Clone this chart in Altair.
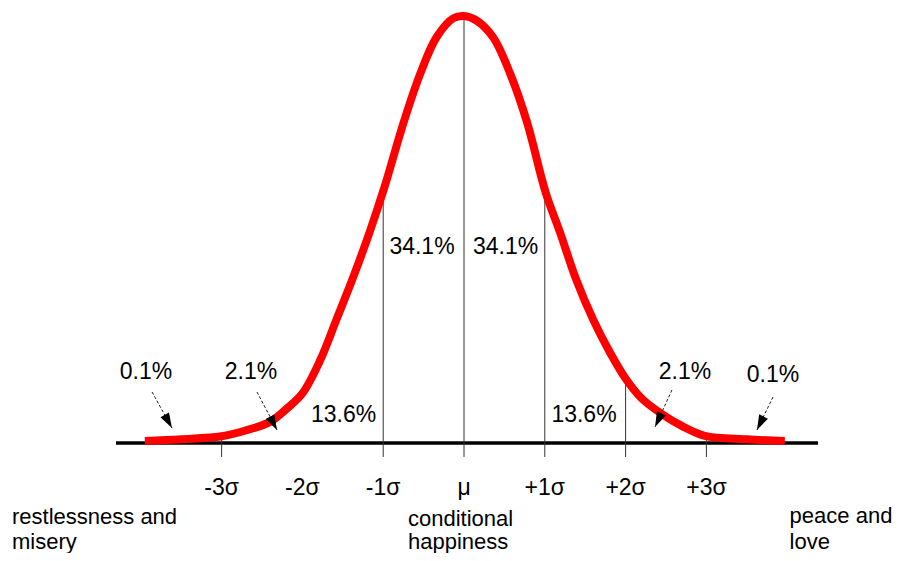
import altair as alt
import pandas as pd

# ---- data (x in sigma units, y as fraction of the peak height) ----
curve_x = [-3.95, -3.5, -3.0, -2.7, -2.4, -2.2, -2.0, -1.78, -1.58, -1.37, -1.16, -0.98,
           -0.75, -0.54, -0.34, -0.13, 0.0, 0.15, 0.36, 0.57, 0.78, 1.01, 1.19, 1.39,
           1.6, 1.81, 2.01, 2.2, 2.43, 2.7, 2.98, 3.5, 3.97]
curve_y = [0.0, 0.004, 0.011, 0.025, 0.045, 0.075, 0.112, 0.19, 0.285, 0.386, 0.496, 0.60,
           0.748, 0.865, 0.95, 0.995, 1.0, 0.99, 0.95, 0.865, 0.75, 0.585, 0.49, 0.379,
           0.285, 0.207, 0.144, 0.10, 0.066, 0.035, 0.012, 0.004, 0.0]

vline_x = [-3, -1, 0, 1, 2, 3]
vline_top = [0.011, 0.60, 1.0, 0.585, 0.144, 0.012]
tick_bottom = -0.0376

base_from, base_to, base_y = -4.307, 4.381, -0.0047

tick_labels = ["-3σ", "-2σ", "-1σ", "μ", "+1σ", "+2σ", "+3σ"]
tick_pos = [-3, -2, -1, 0, 1, 2, 3]
tick_label_y = -0.1106

pct_text = ["34.1%", "34.1%", "13.6%", "13.6%", "2.1%", "2.1%", "0.1%", "0.1%"]
pct_x = [-0.52, 0.514, -1.491, 1.485, -2.636, 2.735, -3.936, 3.824]
pct_y = [0.4565, 0.4565, 0.0612, 0.0612, 0.1624, 0.1624, 0.1624, 0.155]

arrow_x = [-3.861, -2.562, 2.574, 3.824]
arrow_y = [0.1153, 0.1153, 0.12, 0.1035]
arrow_tip_x = [-3.614, -2.314, 2.364, 3.626]
arrow_tip_y = [0.0306, 0.0259, 0.0329, 0.0259]
arrow_angle = [151, 152, 205, 206]

bottom_text = ["restlessness and", "misery", "conditional", "happiness", "peace and", "love"]
bottom_x = [-5.594, -5.594, -0.693, -0.693, 4.030, 4.030]
bottom_y = [-0.1788, -0.2376, -0.1835, -0.2376, -0.1765, -0.2376]

# ---- scales ----
W, H = 886, 545
xs = alt.Scale(domain=[-5.6436, 5.3218], nice=False, zero=False)
ys = alt.Scale(domain=[-0.26353, 1.01882], nice=False, zero=False)
FONT = "Liberation Sans"
FS = 23

curve_df = pd.DataFrame({"x": curve_x, "y": curve_y})
vline_df = pd.DataFrame({"x": vline_x, "top": vline_top, "bottom": [tick_bottom] * len(vline_x)})
base_df = pd.DataFrame({"x": [base_from], "x2": [base_to], "y": [base_y]})
tick_df = pd.DataFrame({"x": tick_pos, "label": tick_labels, "y": [tick_label_y] * len(tick_pos)})
pct_df = pd.DataFrame({"x": pct_x, "y": pct_y, "label": pct_text})
arrow_df = pd.DataFrame({"x": arrow_x, "y": arrow_y, "x2": arrow_tip_x, "y2": arrow_tip_y,
                         "angle": arrow_angle})
bottom_df = pd.DataFrame({"x": bottom_x, "y": bottom_y, "label": bottom_text})

X = lambda f: alt.X(f, type="quantitative", scale=xs, axis=None)
Y = lambda f: alt.Y(f, type="quantitative", scale=ys, axis=None)

baseline = alt.Chart(base_df).mark_rule(color="black", strokeWidth=3.5).encode(
    x=X("x"), x2="x2", y=Y("y"))

vlines = alt.Chart(vline_df).mark_rule(color="#333333", strokeWidth=1).encode(
    x=X("x"), y=Y("top"), y2="bottom")

curve = alt.Chart(curve_df).mark_line(color="#ff0000", strokeWidth=8, interpolate="catmull-rom",
                                      strokeCap="butt").encode(x=X("x"), y=Y("y"))

shafts = alt.Chart(arrow_df).mark_rule(color="#222222", strokeWidth=1, strokeDash=[3, 2]).encode(
    x=X("x"), y=Y("y"), x2="x2", y2="y2")

heads = alt.Chart(arrow_df).mark_point(shape="M0,0L0.65,2L-0.65,2Z", filled=True, fill="black",
                                       opacity=1, strokeWidth=0, size=225).encode(
    x=X("x2"), y=Y("y2"), angle=alt.Angle("angle:Q", scale=None))

pct = alt.Chart(pct_df).mark_text(font=FONT, fontSize=FS, color="black", align="center",
                                  baseline="middle").encode(x=X("x"), y=Y("y"), text="label:N")

ticks = alt.Chart(tick_df).mark_text(font=FONT, fontSize=FS, color="black", align="center",
                                     baseline="middle").encode(x=X("x"), y=Y("y"), text="label:N")

bottom = alt.Chart(bottom_df).mark_text(font=FONT, fontSize=22, color="black", align="left",
                                        baseline="middle").encode(x=X("x"), y=Y("y"), text="label:N")

chart = alt.layer(baseline, vlines, curve, shafts, heads, pct, ticks, bottom).properties(
    width=W, height=H, autosize=alt.AutoSizeParams(type="none"), padding=0,
    background="white"
).configure_view(stroke=None)

chart.save("out.html", embed_options={"renderer": "svg", "actions": False})
